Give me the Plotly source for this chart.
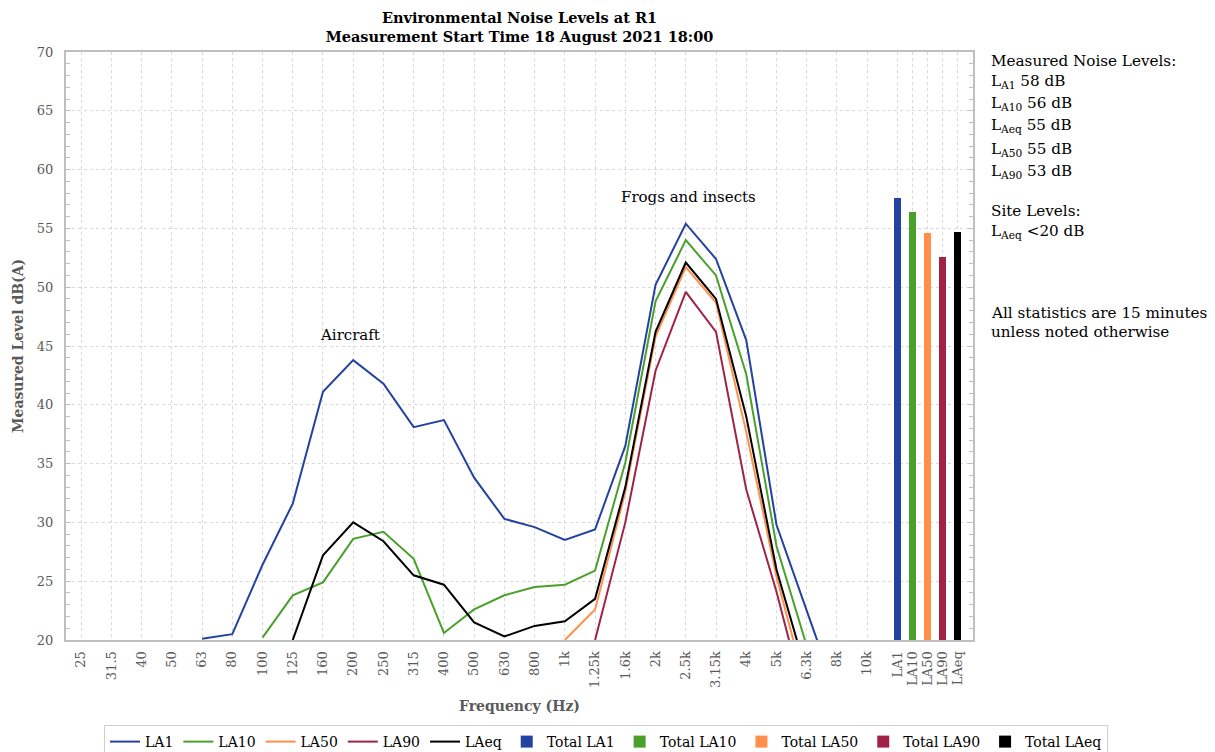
import plotly.graph_objects as go

# ---------------- data ----------------
freq_labels = ["25", "31.5", "40", "50", "63", "80", "100", "125", "160", "200",
               "250", "315", "400", "500", "630", "800", "1k", "1.25k", "1.6k",
               "2k", "2.5k", "3.15k", "4k", "5k", "6.3k", "8k", "10k"]
total_labels = ["LA1", "LA10", "LA50", "LA90", "LAeq"]

N = None
la1 = [N, N, N, N, 20.1, 20.5, 26.4, 31.6, 41.1, 43.8, 41.8, 38.1, 38.7, 33.8,
       30.3, 29.6, 28.5, 29.4, 36.5, 50.2, 55.4, 52.4, 45.5, 29.8, 22.5, 15.2, N]
la10 = [N, N, N, N, N, N, 20.2, 23.8, 24.9, 28.6, 29.2, 26.9, 20.6, 22.6,
        23.8, 24.5, 24.7, 25.9, 35.1, 48.8, 54.0, 51.0, 42.6, 28.0, 19.5, N, N]
la50 = [N, N, N, N, N, N, N, N, N, N, N, N, N, N,
        N, N, 20.0, 22.6, 32.6, 45.8, 51.7, 48.7, 37.7, 25.4, 15.7, N, N]
la90 = [N, N, N, N, N, N, N, N, N, N, N, N, N, N,
        N, N, N, 20.0, 30.0, 42.9, 49.6, 46.2, 32.8, 24.1, 14.2, N, N]
laeq = [N, N, N, N, N, N, N, 20.0, 27.2, 30.0, 28.4, 25.5, 24.7, 21.5,
        20.3, 21.2, 21.6, 23.5, 33.0, 46.2, 52.1, 49.0, 39.0, 26.0, 17.1, N, N]
totals = [57.6, 56.4, 54.6, 52.6, 54.7]

series_names = ["LA1", "LA10", "LA50", "LA90", "LAeq"]
series_values = [la1, la10, la50, la90, laeq]
colors = ["#2443a0", "#4aa02b", "#ff8f4a", "#9e2347", "#000000"]

# ---------------- positions (frequency bands 1 apart, totals half-spaced) ----
freq_pos = list(range(len(freq_labels)))
total_pos = [len(freq_labels) + 0.5 * k for k in range(len(total_labels))]

FONT = "DejaVu Serif"
GREY = "#595959"

fig = go.Figure()
for name, vals, col in zip(series_names, series_values, colors):
    fig.add_trace(go.Scatter(x=freq_pos, y=vals, mode="lines", name=name,
                             line=dict(color=col, width=2), connectgaps=False))
for lab, val, pos, col in zip(total_labels, totals, total_pos, colors):
    fig.add_trace(go.Bar(x=[pos], y=[val], name="Total " + lab, width=0.23,
                         marker=dict(color=col, line=dict(width=0))))

# ---------------- annotations ----------------
ann = []
ann.append(dict(x=8.9, y=45.9, xref="x", yref="y", text="Aircraft", showarrow=False,
                font=dict(family=FONT, size=15, color="black")))
ann.append(dict(x=20.1, y=57.7, xref="x", yref="y", text="Frogs and insects",
                showarrow=False, font=dict(family=FONT, size=15, color="black")))

side_lines = [
    ("Measured Noise Levels:", 61),
    ("L<sub>A1</sub> 58 dB", 82),
    ("L<sub>A10</sub> 56 dB", 104),
    ("L<sub>Aeq</sub> 55 dB", 126),
    ("L<sub>A50</sub> 55 dB", 150),
    ("L<sub>A90</sub> 53 dB", 172),
    ("Site Levels:", 211),
    ("L<sub>Aeq</sub> &lt;20 dB", 232),
    ("All statistics are 15 minutes", 313),
    ("unless noted otherwise", 332),
]
plot_top, plot_bottom, plot_left, plot_right = 52, 640, 66, 973
ph = plot_bottom - plot_top
pw = plot_right - plot_left
for txt, py in side_lines:
    ann.append(dict(x=(989 - plot_left) / pw, y=(plot_bottom - py) / ph,
                    xref="paper", yref="paper", text=txt, showarrow=False,
                    xanchor="left", yanchor="middle",
                    font=dict(family=FONT, size=15.2, color="black")))

ann.append(dict(x=(18 - plot_left) / pw, y=0.5, xref="paper", yref="paper",
                text="<b>Measured Level dB(A)</b>", textangle=-90, showarrow=False,
                xanchor="center", yanchor="middle",
                font=dict(family=FONT, size=14, color=GREY)))
ann.append(dict(x=0.5, y=(plot_bottom - 706) / ph, xref="paper", yref="paper",
                text="<b>Frequency (Hz)</b>", showarrow=False,
                xanchor="center", yanchor="middle",
                font=dict(family=FONT, size=14, color=GREY)))

fig.update_layout(
    width=1215, height=752,
    margin=dict(l=plot_left, r=1215 - plot_right, t=plot_top, b=752 - plot_bottom,
                autoexpand=False),
    paper_bgcolor="white", plot_bgcolor="white",
    title=dict(text="<b>Environmental Noise Levels at R1<br>Measurement Start Time 18 August 2021 18:00</b>",
               x=0.5, xref="paper", xanchor="center",
               y=1 - 23 / 752, yref="container", yanchor="middle",
               font=dict(family=FONT, size=14.5, color="black")),
    showlegend=True,
    legend=dict(orientation="h", x=(1108 - plot_left) / pw, xanchor="right",
                y=(plot_bottom - 725) / ph, yanchor="top",
                bordercolor="#d0d0d0", borderwidth=1, bgcolor="white",
                font=dict(family=FONT, size=14, color="black"),
                traceorder="normal", itemwidth=30),
    annotations=ann,
    barmode="overlay",
    bargap=0,
)

fig.update_xaxes(range=[-0.5, 29.5], tickmode="array",
                 tickvals=freq_pos + total_pos, ticktext=freq_labels + total_labels,
                 tickangle=-90, ticks="", showgrid=True, gridcolor="#d9d9d9",
                 griddash="dot", gridwidth=1, showline=True, linecolor="#bfbfbf",
                 linewidth=2, mirror=True, zeroline=False, ticklabelstandoff=4,
                 automargin=False,
                 tickfont=dict(family=FONT, size=13, color=GREY))
fig.update_yaxes(range=[20, 70], dtick=5, tick0=20, ticks="inside", ticklen=5,
                 tickcolor="#bfbfbf", showgrid=True, gridcolor="#d9d9d9",
                 griddash="dot", gridwidth=1, showline=True, linecolor="#bfbfbf",
                 linewidth=2, mirror="allticks", zeroline=False,
                 ticklabelstandoff=8, automargin=False,
                 minor=dict(dtick=1, ticks="inside", ticklen=4, tickcolor="#bfbfbf",
                            showgrid=False),
                 tickfont=dict(family=FONT, size=13, color=GREY))

fig.write_html("out.html", config={"displayModeBar": False},
               post_script="document.body.style.margin='0px';")
